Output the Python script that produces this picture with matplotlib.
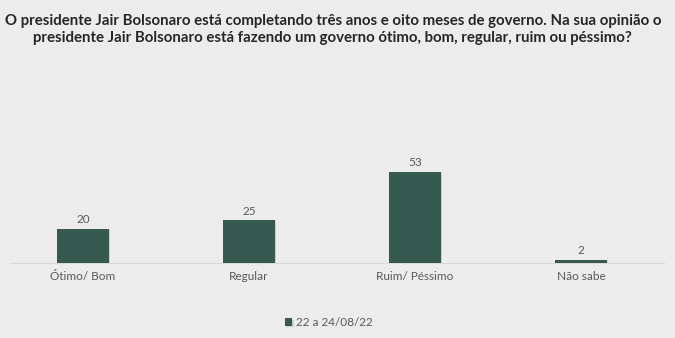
import matplotlib.pyplot as plt
import matplotlib.patheffects as pe

# Avaliação do governo Bolsonaro (%)
categorias = ['Ótimo/ Bom', 'Regular', 'Ruim/ Péssimo', 'Não sabe']
valores = [20, 25, 53, 2]
serie = '22 a 24/08/22'

titulo = ('O presidente Jair Bolsonaro está completando três anos e oito meses de governo. Na sua opinião o\n'
          'presidente Jair Bolsonaro está fazendo um governo ótimo, bom, regular, ruim ou péssimo?')

fundo = '#ececec'
verde = '#365a4f'
cinza = '#595959'

plt.rcParams['font.family'] = ['Lato', 'DejaVu Sans']

fig = plt.figure(figsize=(6.75, 3.38), dpi=100, facecolor=fundo)
ax = fig.add_axes([0.0, 0.222, 0.984, 0.305])
ax.set_facecolor(fundo)

x = range(len(categorias))
barras = ax.bar(x, valores, width=0.31, color=verde, label=serie, zorder=3)
for b in barras:
    b.set_path_effects([pe.SimplePatchShadow(offset=(1, -1), shadow_rgbFace='#b0b0b0', alpha=0.5), pe.Normal()])

for xi, v in zip(x, valores):
    ax.text(xi, v + 2.0, str(v), ha='center', va='bottom', fontsize=8.5, color=cinza)

ax.set_xlim(-0.5, len(categorias) - 0.5)
ax.set_ylim(0, 60)
ax.set_xticks(list(x))
ax.set_xticklabels(categorias, fontsize=8.5, color=cinza)
ax.tick_params(axis='x', length=0, pad=6)
ax.set_yticks([])
for s in ['top', 'right', 'left']:
    ax.spines[s].set_visible(False)
ax.spines['bottom'].set_color('#d9d9d9')
ax.spines['bottom'].set_bounds(-0.44, 3.5)

fig.text(0.493, 0.96, titulo, ha='center', va='top', fontsize=10.8, fontweight='bold',
         color='#262626', linespacing=1.3)

fig.legend(handles=[barras], labels=[serie], loc='center', bbox_to_anchor=(0.487, 0.045),
           frameon=False, fontsize=8.5, labelcolor=cinza, handlelength=0.6, handleheight=0.6,
           handletextpad=0.3)

fig.savefig('out.png', dpi=100, facecolor=fundo)
